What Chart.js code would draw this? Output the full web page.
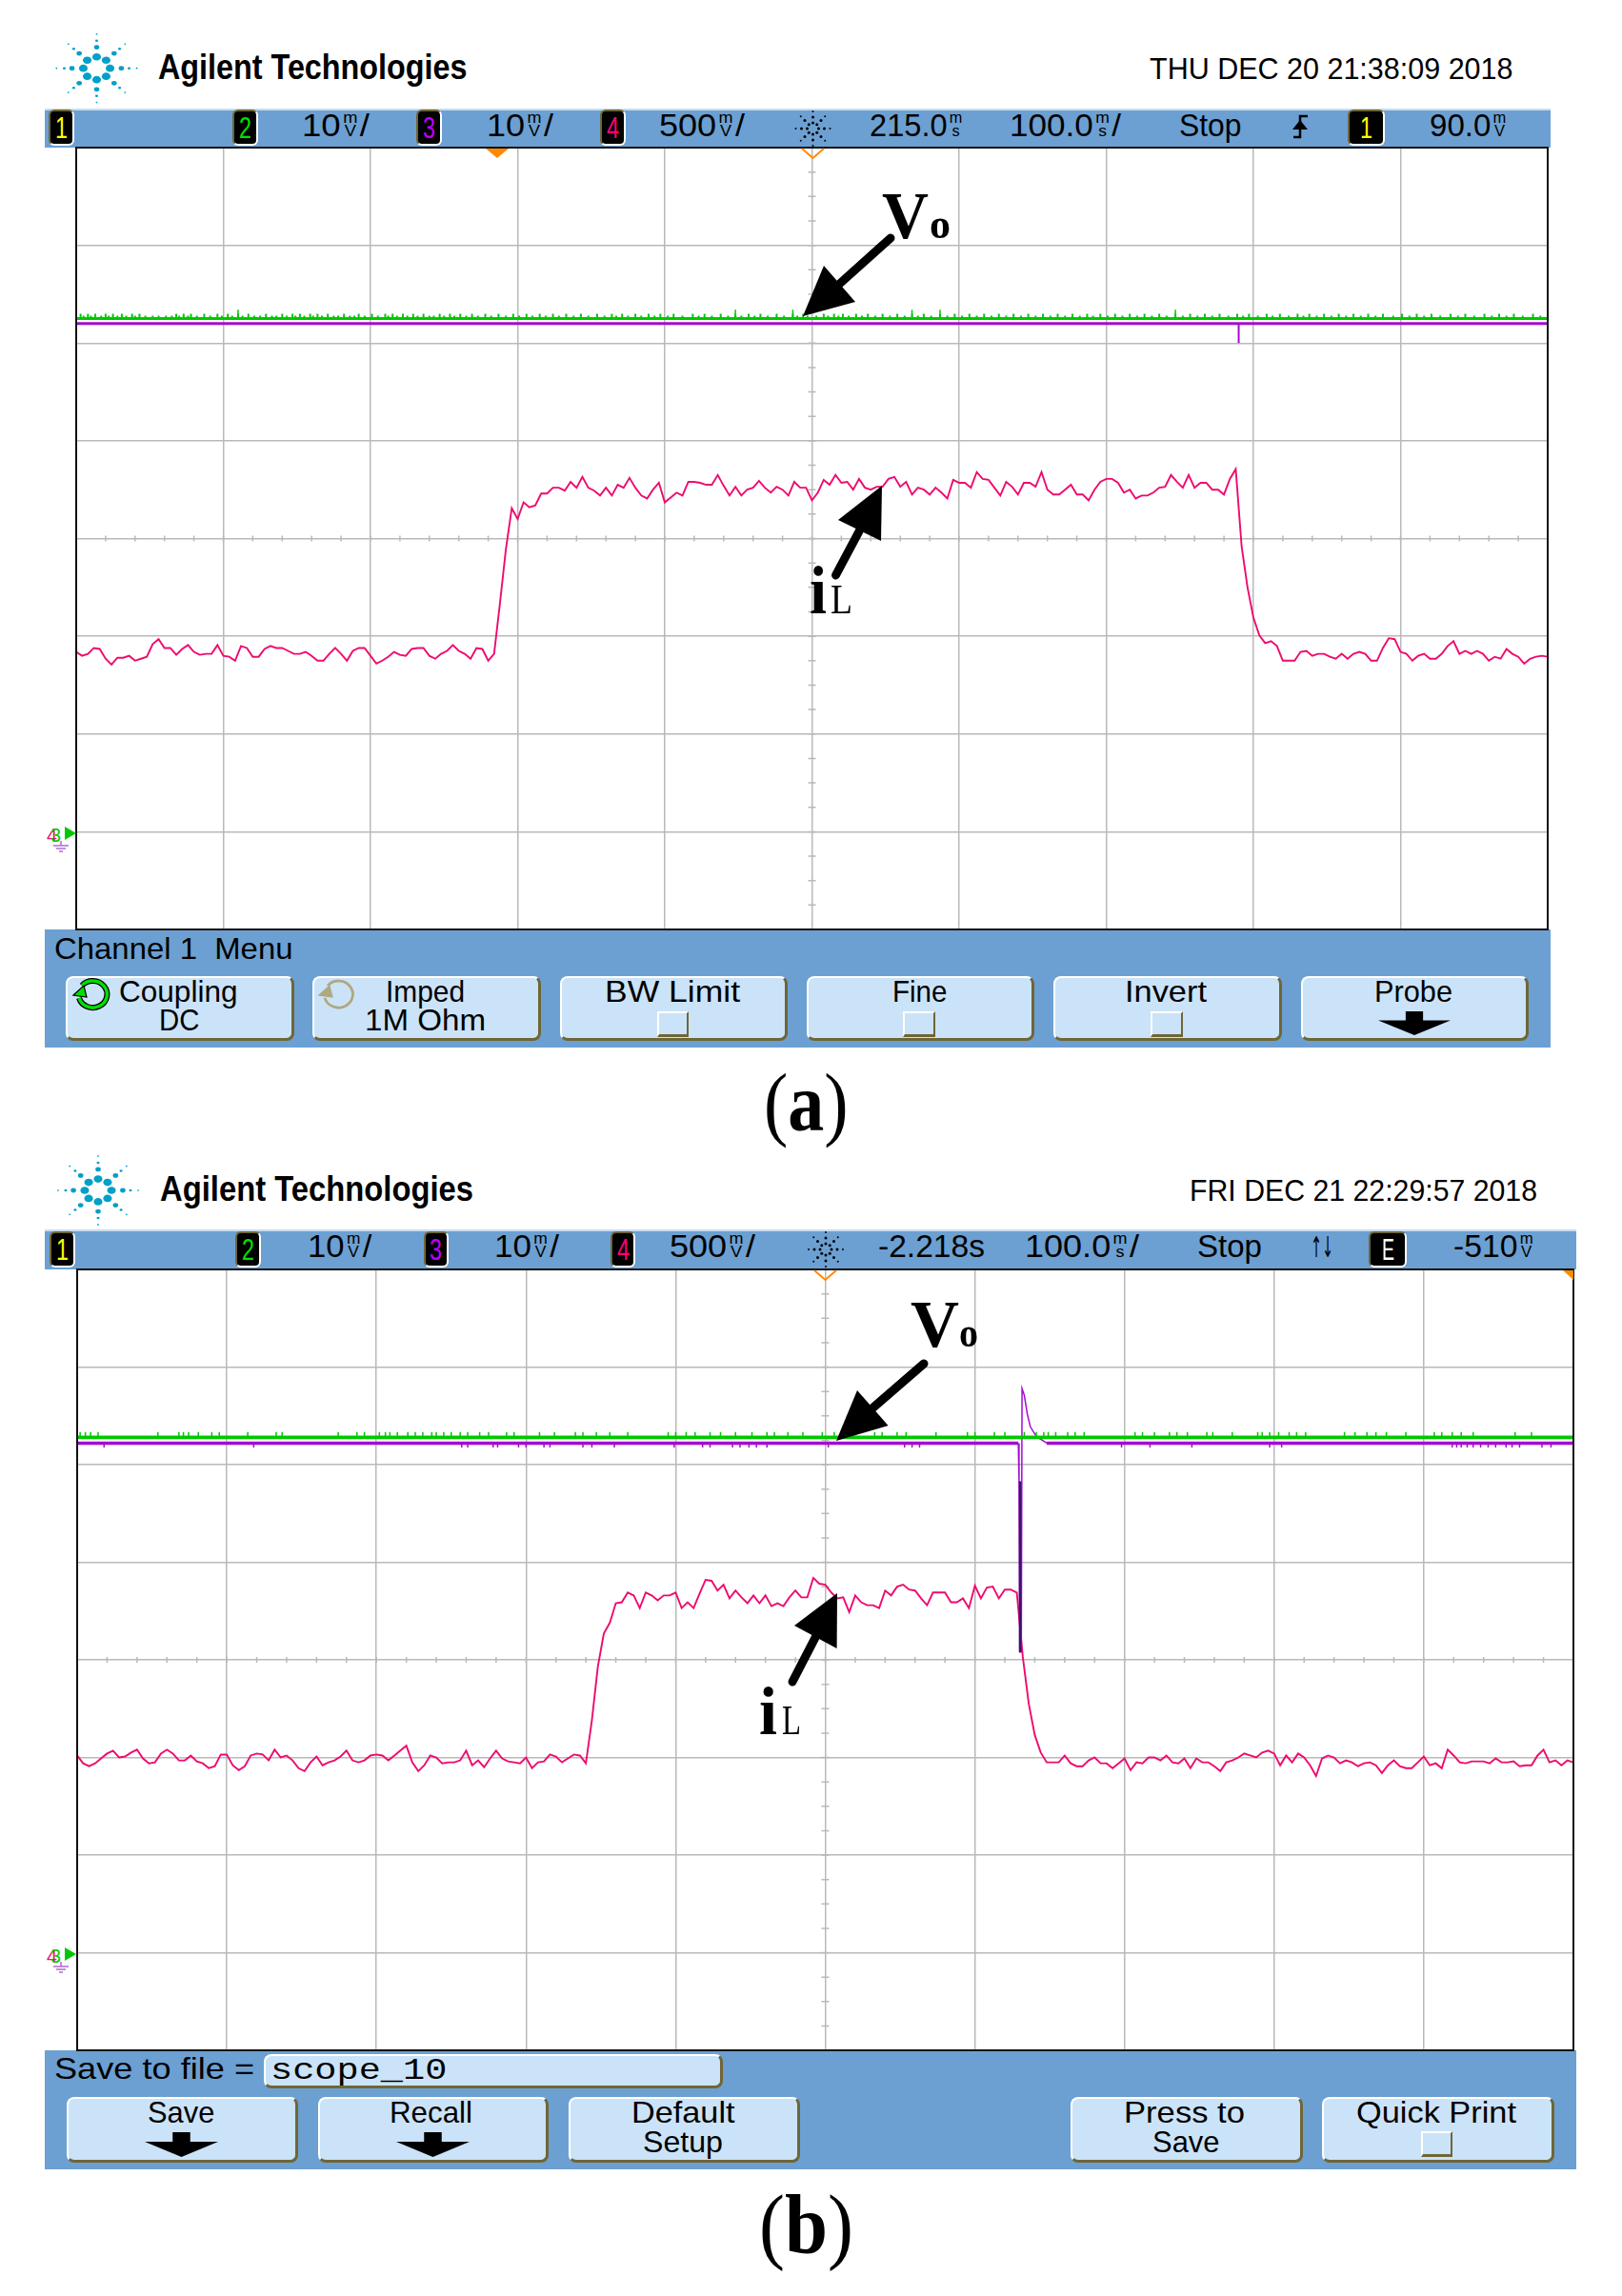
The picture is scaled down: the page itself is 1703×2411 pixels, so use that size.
<!DOCTYPE html>
<html>
<head>
<meta charset="utf-8">
<title>Scope captures</title>
<script src="https://cdn.jsdelivr.net/npm/chart.js@4/dist/chart.umd.min.js"></script>
<style>
html,body{margin:0;padding:0;background:#fff;}
#page{position:relative;width:1703px;height:2411px;overflow:hidden;background:#fff;font-family:"Liberation Sans Narrow","Liberation Sans",sans-serif;color:#000;}
.bar{position:absolute;background:#6ca0d2;}
.btn{position:absolute;box-sizing:border-box;background:#cbe3f8;border-radius:8px;border:2px solid #fff;border-right:3px solid #6f6636;border-bottom:3px solid #6f6636;}
.chk{position:absolute;box-sizing:border-box;background:#cbe3f8;border:2px solid #fff;border-right:2px solid #6f6636;border-bottom:3px solid #6f6636;}
.ch{position:absolute;box-sizing:border-box;background:#000;border-radius:6px;border:2px solid #fff;border-left-color:#6f6636;border-top-color:#6f6636;}
.txt{position:absolute;white-space:pre;transform-origin:0 0;line-height:1;}
.u{display:inline-block;font-size:.5em;line-height:.82;width:1.1em;text-align:center;}
.u b{display:block;font-weight:normal;}
.plot{position:absolute;background:#fff;}
.edge{position:absolute;box-sizing:border-box;border:2px solid #111;pointer-events:none;}
canvas{display:block;}
svg{position:absolute;left:0;top:0;pointer-events:none;}
</style>
</head>
<body>
<div id="page"></div>
<script>
// sample period of the pink trace, one reading every 0.04 div at 100 ms/div
const sampleMs = 4;

// i_L, scope (a), in divisions from the bottom of the screen
const currentA = [
2.84,2.80,2.82,2.88,2.87,2.77,2.71,2.78,2.78,2.80,
2.75,2.77,2.79,2.92,2.97,2.88,2.88,2.81,2.87,2.91,
2.84,2.81,2.82,2.82,2.91,2.80,2.79,2.75,2.90,2.88,
2.79,2.79,2.87,2.90,2.88,2.88,2.85,2.82,2.82,2.84,
2.80,2.75,2.75,2.82,2.88,2.82,2.75,2.85,2.88,2.88,
2.80,2.72,2.75,2.79,2.84,2.81,2.80,2.87,2.88,2.88,
2.80,2.77,2.82,2.85,2.91,2.85,2.82,2.77,2.88,2.87,
2.75,2.82,3.34,3.89,4.31,4.20,4.37,4.32,4.34,4.46,
4.46,4.52,4.52,4.49,4.58,4.52,4.63,4.52,4.49,4.44,
4.52,4.44,4.55,4.52,4.62,4.52,4.44,4.41,4.50,4.57,
4.37,4.42,4.47,4.44,4.58,4.58,4.57,4.55,4.55,4.65,
4.54,4.44,4.53,4.44,4.50,4.52,4.59,4.52,4.47,4.53,
4.50,4.44,4.58,4.52,4.52,4.39,
4.47,4.60,4.55,4.65,4.57,4.58,4.50,4.61,4.52,4.50,
4.53,4.53,4.61,4.63,4.53,4.58,4.45,4.52,4.50,4.45,
4.52,4.47,4.41,4.60,4.57,4.57,4.52,4.68,4.61,4.60,
4.52,4.44,4.58,4.53,4.45,4.57,4.57,4.53,4.68,4.50,
4.45,4.45,4.50,4.55,4.45,4.45,4.39,4.50,4.58,4.61,
4.61,4.57,4.47,4.50,4.41,4.44,4.44,4.47,4.52,4.53,
4.65,4.58,4.52,4.65,4.52,4.57,4.57,4.50,4.50,4.45,
4.61,4.71,3.92,3.50,3.19,3.01,2.93,2.95,2.90,2.75,
2.75,2.75,2.84,2.85,2.80,2.82,2.82,2.79,2.77,2.82,
2.77,2.82,2.84,2.82,2.75,2.75,2.88,2.98,2.97,2.84,
2.82,2.75,2.80,2.82,2.77,2.77,2.82,2.90,2.95,2.82,
2.85,2.82,2.85,2.82,2.75,2.79,2.77,2.87,2.82,2.79,
2.72,2.77,2.79,2.80,2.79
];

// i_L, scope (b)
const currentB = [
3.02,2.94,2.91,2.94,2.99,3.04,3.07,3.00,3.01,3.05,
3.08,2.99,2.94,2.95,3.04,3.08,3.04,2.97,2.97,3.02,
2.96,2.94,2.89,2.91,3.03,3.03,2.92,2.87,2.91,3.02,
3.04,3.03,2.97,3.08,3.00,3.02,2.97,2.89,2.86,2.95,
3.01,2.92,2.95,2.97,3.01,3.07,2.97,2.95,2.97,3.02,
3.03,3.02,2.97,3.02,3.07,3.12,2.95,2.86,2.92,3.02,
3.00,2.94,2.95,2.95,2.97,3.07,2.92,2.97,2.90,2.99,
3.07,2.99,2.96,2.95,2.94,3.00,2.89,2.95,2.96,3.03,
3.01,2.95,2.99,3.03,3.02,2.94,3.38,3.93,4.27,4.38,
4.58,4.59,4.69,4.66,4.53,4.69,4.66,4.61,4.66,4.66,
4.69,4.53,4.59,4.53,4.68,4.82,4.81,4.71,4.77,4.63,
4.71,4.64,4.58,4.66,4.58,4.66,4.55,4.58,4.55,4.64,
4.71,4.64,4.64,4.84,4.78,4.77,
4.69,4.63,4.64,4.49,4.66,4.59,4.56,4.56,4.53,4.71,
4.66,4.75,4.77,4.72,4.71,4.63,4.56,4.69,4.69,4.69,
4.59,4.59,4.63,4.53,4.76,4.63,4.74,4.75,4.63,4.72,
4.72,4.69,4.03,3.55,3.23,3.05,2.95,2.95,2.95,3.02,
2.94,2.91,2.91,2.97,3.00,2.94,2.94,2.89,2.94,2.99,
2.87,2.95,2.94,3.00,3.00,2.97,3.02,2.95,2.94,2.99,
2.89,2.99,2.95,2.95,2.91,2.86,2.95,2.97,3.00,3.04,
3.02,3.00,3.05,3.07,3.04,2.92,3.02,2.95,3.04,3.00,
2.92,2.81,2.99,3.02,3.00,2.94,2.97,2.95,2.91,2.94,
2.95,2.92,2.84,2.92,2.97,2.91,2.89,2.89,2.95,3.01,
2.92,2.94,2.89,3.08,3.02,2.95,2.94,2.96,2.96,2.96,
2.94,2.99,2.95,2.95,2.96,2.91,2.92,2.92,3.02,3.08,
2.95,2.97,2.92,2.97,2.95
];

// V_o levels in divisions, and where the noise ticks sit (ms)
const greenLevelA = 6.25, purpleLevelA = 6.2, greenLevelB = 6.28, purpleLevelB = 6.22;
const greenTicksA = [3,8,13,20,25,31,38,43,68,73,78,87,96,103,110,117,129,140,147,152,159,164,171,182,192,201,210,215,222,229,236,247,254,261,269,278,287,297,306,315,324,333,343,354,364,371,380,389,397,406,419,427,438,448,457,465,476,487,494,508,515,521,530,538,548,558,568,576,587,597,607,617,627,637,647,657,667,677,687,696,706,716,726,736,747,757,767,777,789,797,809,818,830,838,848,858,868,878,888,901,911,921,934,944,957,967,977,990];
const greenFuzzA = [5,10,17,22,28,34,40,47,52,56,61,65,70,76,82,91,99,106,113,121,125,133,136,143,149,155,161,167,175,178,186,189,196,205,212,218,225,232,240,243,250,257,265,273,282,292,301,310,319,328,338,348,359,367,375,384,393,402,412,423,432,443,452,461,470,481,490,497,503,511,518,525,534,543,553,563,572,581,592,602,612,622,632,642,652,662,672,682,691,701,711,721,731,741,752,762,772,783,793,803,813,824,834,843,853,863,873,883,895,906,916,927,939,950,962,972,983,995];
const greenPeaksA = [110,448,487,568,587,747];
const greenTicksB = [2,5.5,9,14,54,68,71,74.5,81,90,95,114,133,137,174.5,187,192,202,206,209,214,221,226,231,237,240,245,250,256,261,269,275,287,292,309,319,333,338,347,356,368,395,400,407,413,423,430,440,451,461,466,475,485,498,506,533,538,548,554,574,595,600,613,620,633,641,646,649,654,662,667,673,707,712,720,730,735,742,755,759,772,789,792,797,803,810,815,821,847,854,862,868,875,888,907,912,919,925,933,961,972];
const purpleTicksB = [18,118,257,261,278,281,295,300,312,316,338,344,359,399,418,423,438,443,449,454,461,502,553,558,563,698,717,745,797,805,919,922,925,929,933,938,943,948,955,959,964,979,985];

// the dip and recovery on the purple trace
const dipTimeA = [790,790];
const dipValueA = [6.2,6.0];
const dipTimeB = [629,629.5,630,631,631.5,633,635,637,641,644,648];
const dipValueB = [6.22,5.83,4.08,4.08,6.78,6.71,6.52,6.39,6.29,6.26,6.22];

const gridX = [0,100,200,300,400,500,600,700,800,900,1000];
const gridY = [0,1,2,3,4,5,6,7,8];

const colGreen = '#00c800', colPurple = '#a30cd0', colPink = '#ee0a6e', colDark = '#3e1268', colGrid = '#b9b9b9';

function xy(times, values){
	return times.map(function(t, i){ return {x: t, y: values[i]}; });
}

function sampled(values){
	return values.map(function(v, i){ return {x: i * sampleMs, y: v}; });
}

function ticks(times, level, height){
	let pts = [];
	times.forEach(function(t){
		pts.push({x: t, y: level}, {x: t, y: level + height}, {x: t, y: null});
	});
	return pts;
}

function trace(data, color, width){
	return {data: data, borderColor: color, borderWidth: width, pointRadius: 0, showLine: true, spanGaps: false, tension: 0, fill: false, stepped: false};
}

// small ticks on the centre cross, every 0.2 div across and 0.25 div down
const centreTicks = {
	id: 'centreTicks',
	beforeDatasetsDraw: function(chart){
		let c = chart.ctx, sx = chart.scales.x, sy = chart.scales.y;
		c.save();
		c.strokeStyle = colGrid;
		c.lineWidth = 1.5;
		c.beginPath();
		for (let t = 20; t < 1000; t += 20){
			c.moveTo(sx.getPixelForValue(t), sy.getPixelForValue(4) - 3);
			c.lineTo(sx.getPixelForValue(t), sy.getPixelForValue(4) + 3);
		}
		for (let v = 0.25; v < 8; v += 0.25){
			c.moveTo(sx.getPixelForValue(500) - 4, sy.getPixelForValue(v));
			c.lineTo(sx.getPixelForValue(500) + 4, sy.getPixelForValue(v));
		}
		c.stroke();
		c.restore();
	}
};

const page = document.getElementById('page');

function scopeChart(box, datasets){
	let holder = document.createElement('div');
	holder.className = 'plot';
	holder.style.cssText = `left:${box.x}px;top:${box.y}px;width:${box.w}px;height:${box.h}px`;
	let canvas = document.createElement('canvas');
	canvas.width = box.w;
	canvas.height = box.h;
	holder.appendChild(canvas);
	page.appendChild(holder);
	return new Chart(canvas, {
		type: 'scatter',
		data: {datasets: datasets},
		plugins: [centreTicks],
		options: {
			responsive: false,
			animation: false,
			layout: {padding: 0},
			plugins: {legend: {display: false}, tooltip: {enabled: false}, title: {display: false}},
			scales: {
				x: {type: 'linear', min: 0, max: 1000, afterBuildTicks: function(a){ a.ticks = gridX.map(function(v){ return {value: v}; }); }, ticks: {display: false}, border: {display: false}, grid: {color: colGrid, lineWidth: 1.5, drawTicks: false}},
				y: {type: 'linear', min: 0, max: 8, afterBuildTicks: function(a){ a.ticks = gridY.map(function(v){ return {value: v}; }); }, ticks: {display: false}, border: {display: false}, grid: {color: colGrid, lineWidth: 1.5, drawTicks: false}}
			}
		}
	});
}

// BEGIN chrome helpers
function box(cls, x, y, w, h, extra){
	let d = document.createElement('div');
	d.className = cls;
	d.style.cssText = `left:${x}px;top:${y}px;width:${w}px;height:${h}px;` + (extra || '');
	page.appendChild(d);
	return d;
}

// puts text between x0 and x1 on a baseline, squeezing it to the measured width
function label(html, x0, x1, base, size, extra){
	let s = document.createElement('span');
	s.className = 'txt';
	s.innerHTML = html + '<i style="display:inline-block;width:0;height:0"></i>';
	s.style.cssText = `left:${x0}px;top:0;font-size:${size}px;` + (extra || '');
	page.appendChild(s);
	let rect = s.getBoundingClientRect();
	let mark = s.lastChild.getBoundingClientRect();
	s.style.top = (base - (mark.bottom - rect.top)) + 'px';
	s.style.transform = `scaleX(${(x1 - x0) / rect.width})`;
	return s;
}

const unit = function(a, b){ return `<span class="u"><b>${a}</b><b>${b}</b></span>`; };
let svg = '';

function chBox(txt, color, x0, x1, y0, y1){
	box('ch', x0, y0, x1 - x0, y1 - y0);
	label(txt, x0 + (x1 - x0) / 2 - 6.5, x0 + (x1 - x0) / 2 + 6.5, y1 - 8, 32, `color:${color}`);
}

function burst(cx, cy, rings, sx, sy, color){
	for (let a = 0; a < 8; a++){
		let ang = a * Math.PI / 4;
		rings.forEach(function(r){
			svg += `<ellipse cx="${cx + Math.cos(ang) * r[0] * sx}" cy="${cy + Math.sin(ang) * r[0] * sy}" rx="${r[1] * sx}" ry="${r[1] * sy}" fill="${color}"/>`;
		});
	}
}

function downArrow(x0, x1, y0, y1){
	let m = (x0 + x1) / 2, w = (x1 - x0) * 0.12, n = y0 + (y1 - y0) * 0.38;
	svg += `<polygon points="${m - w},${y0} ${m + w},${y0} ${m + w},${n} ${x1},${n} ${m},${y1} ${x0},${n} ${m - w},${n}" fill="#000"/>`;
}

function knob(cx, cy, color, outline, outer, inner){
	svg += `<path d="M${cx - 11} ${cy - 9} A15 14 0 1 1 ${cx - 14} ${cy + 4}" fill="none" stroke="${outline}" stroke-width="${outer}"/>`;
	svg += `<path d="M${cx - 11} ${cy - 9} A15 14 0 1 1 ${cx - 14} ${cy + 4}" fill="none" stroke="${color}" stroke-width="${inner}"/>`;
	svg += `<polygon points="${cx - 20},${cy + 1} ${cx - 9},${cy - 9} ${cx - 6},${cy + 3}" fill="${color}" stroke="${outline}" stroke-width="1.2"/>`;
}

function pointer(tip, b1, b2, end, width){
	let nx = (b1[0] + b2[0]) / 2, ny = (b1[1] + b2[1]) / 2;
	svg += `<line x1="${nx}" y1="${ny}" x2="${end[0]}" y2="${end[1]}" stroke="#000" stroke-width="${width}" stroke-linecap="round"/>`;
	svg += `<polygon points="${tip} ${b1} ${b2}" fill="#000"/>`;
}

function groundMark(y){
	svg += `<polygon points="68,${y - 7} 80,${y} 68,${y + 7}" fill="#00c800"/>`;
	svg += `<path d="M64 ${y + 8} v5 M56 ${y + 13} h16 M59 ${y + 16} h10 M62 ${y + 19} h4" stroke="#b06ad0" stroke-width="1.5" fill="none"/>`;
	label('4', 49, 60, y + 9, 20, 'color:#ee0a6e');
	label('3', 53, 64, y + 9, 20, 'color:#00c800');
}

function serif(txt, x0, x1, base, size, weight){
	return label(txt, x0, x1, base, size, `font-family:'Liberation Serif',serif;font-weight:${weight}`);
}
// END chrome helpers

// BEGIN scope (a)
box('bar', 47, 114, 1581, 41, 'border-top:2px solid #c8dcee;box-sizing:border-box');
box('bar', 47, 976, 1581, 124);
scopeChart({x: 80, y: 155, w: 1545, h: 821}, [
	trace(ticks(greenPeaksA, greenLevelA, 0.09), colGreen, 1.5),
	trace(ticks(greenTicksA, greenLevelA, 0.05), colGreen, 2),
	trace(ticks(greenFuzzA, greenLevelA, 0.03), colGreen, 2),
	trace(xy([0, 1000], [greenLevelA, greenLevelA]), colGreen, 3),
	trace(xy(dipTimeA, dipValueA), colPurple, 2),
	trace(xy([0, 1000], [purpleLevelA, purpleLevelA]), colPurple, 3),
	trace(sampled(currentA), colPink, 1.9)
]);
box('edge', 79, 154, 1547, 823);

burst(101.5, 71.7, [[13, 4.2], [24, 2.6], [31.5, 1.4], [39, 0.9]], 1.08, 0.92, '#00a0c8');
label('Agilent Technologies', 165.5, 490, 83, 36, 'font-weight:bold');
label('THU DEC 20 21:38:09 2018', 1207, 1588.5, 83.3, 31);

chBox('1', '#ffff00', 50.6, 78, 115, 153);
chBox('2', '#00e000', 244, 271, 115, 153);
label('10' + unit('m', 'V') + '/', 317, 388, 142.7, 33);
chBox('3', '#c000ff', 436.5, 463.6, 115, 153);
label('10' + unit('m', 'V') + '/', 511, 581, 142.7, 33);
chBox('4', '#ff0078', 630, 657, 115, 153);
label('500' + unit('m', 'V') + '/', 692, 782, 142.7, 33);
burst(853.5, 135, [[6, 1.5], [12, 1.5], [18, 1]], 1, 1, '#000');
label('215.0' + unit('m', 's'), 912.5, 1012, 142.7, 33);
label('100.0' + unit('m', 's') + '/', 1060, 1177, 142.7, 33);
label('Stop', 1237.5, 1303, 142.7, 33);
svg += '<path d="M1358 144 h7 V122 h8" stroke="#000" stroke-width="2.5" fill="none"/><polygon points="1357,136 1365,126 1373,136" fill="#000"/>';
chBox('1', '#ffff00', 1414.6, 1454, 115, 153);
label('90.0' + unit('m', 'V'), 1501, 1583.5, 142.7, 33);
svg += '<polygon points="510,156 534,156 522,166" fill="#ff8a00"/>';
svg += '<path d="M842 156 L853.5 166 L865 156" fill="none" stroke="#ff8a00" stroke-width="2"/>';
groundMark(875);

label('Channel 1  Menu', 57, 307.5, 1006.7, 32);
box('btn', 69, 1025, 240, 68);
box('btn', 328, 1025, 240, 68);
box('btn', 588, 1025, 239, 68);
box('btn', 847, 1025, 238.5, 68);
box('btn', 1106.4, 1025, 239.3, 68);
box('btn', 1366, 1025, 239, 68);
knob(97, 1044, '#00e000', '#000', 6, 3.5);
knob(355, 1044, '#b0a880', '#b0a880', 2.5, 2.5);
label('Coupling', 125, 249.5, 1051.7, 32);
label('DC', 166.6, 209, 1082, 32);
label('Imped', 405, 488, 1051.7, 32);
label('1M Ohm', 383, 510, 1082, 32);
label('BW Limit', 635, 777, 1051.7, 32);
box('chk', 690, 1062, 33, 27);
label('Fine', 936.5, 994, 1051.7, 32);
box('chk', 948, 1062, 34, 27);
label('Invert', 1181, 1267, 1051.7, 32);
box('chk', 1208, 1062, 34, 27);
label('Probe', 1443, 1525, 1051.7, 32);
downArrow(1447, 1523, 1062, 1087);
serif('(<b>a</b>)', 802, 890.6, 1187, 87, 'normal');

pointer([843, 332], [865, 279], [898, 317], [935, 250], 9);
pointer([926, 510], [880, 546], [925, 568], [877.5, 604], 9);
serif('V', 926, 975, 250, 70, 'bold');
serif('o', 976, 998, 250, 44, 'bold');
serif('i', 850, 868, 644, 72, 'bold');
serif('L', 872, 895, 644, 44, 'normal');
// END scope (a)

// BEGIN scope (b)
box('bar', 47, 1291, 1608, 42, 'border-top:2px solid #c8dcee;box-sizing:border-box');
box('bar', 47, 2153, 1608, 125);
scopeChart({x: 81, y: 1333, w: 1571, h: 820}, [
	trace(ticks(greenTicksB, greenLevelB, 0.055), colGreen, 1.5),
	trace(xy([0, 1000], [greenLevelB, greenLevelB]), colGreen, 3.8),
	trace(xy([630.2, 630.2], [5.83, 4.08]), colDark, 2.6),
	trace(xy(dipTimeB, dipValueB), colPurple, 1.5),
	trace(ticks(purpleTicksB, purpleLevelB, -0.045), colPurple, 1.5),
	trace(xy([0, 629, null, 648, 1000], [purpleLevelB, purpleLevelB, null, purpleLevelB, purpleLevelB]), colPurple, 3.6),
	trace(sampled(currentB), colPink, 1.9)
]);
box('edge', 80, 1332, 1573, 822);

burst(103, 1250, [[13, 4.2], [24, 2.6], [31.5, 1.4], [39, 0.9]], 1.08, 0.92, '#00a0c8');
label('Agilent Technologies', 167.5, 496.5, 1261, 36, 'font-weight:bold');
label('FRI DEC 21 22:29:57 2018', 1249, 1614, 1261, 31);

chBox('1', '#ffff00', 51.7, 78.8, 1293, 1331);
chBox('2', '#00e000', 247, 274, 1293, 1331);
label('10' + unit('m', 'V') + '/', 322.7, 390, 1320, 33);
chBox('3', '#c000ff', 444.6, 470.6, 1293, 1331);
label('10' + unit('m', 'V') + '/', 519, 587, 1320, 33);
chBox('4', '#ff0078', 641, 667, 1293, 1331);
label('500' + unit('m', 'V') + '/', 703, 793, 1320, 33);
burst(867, 1312, [[6, 1.5], [12, 1.5], [18, 1]], 1, 1, '#000');
label('-2.218s', 922, 1034, 1320, 33);
label('100.0' + unit('m', 's') + '/', 1076, 1196, 1320, 33);
label('Stop', 1257, 1325, 1320, 33);
label('↑↓', 1376, 1400, 1320, 30, "font-family:'DejaVu Sans',sans-serif");
chBox('E', '#fff', 1437, 1477, 1293, 1331);
label('-510' + unit('m', 'V'), 1526, 1612, 1320, 33);
svg += '<path d="M855 1334 L866.5 1344 L878 1334" fill="none" stroke="#ff8a00" stroke-width="2"/>';
svg += '<polygon points="1641,1334 1652,1334 1652,1344" fill="#ff8a00"/>';
groundMark(2052);

label('Save to file =', 57, 267, 2182.7, 32);
box('btn', 276.6, 2157, 482.4, 36);
label('scope_10', 283.7, 469, 2182.7, 32, "font-family:'Liberation Mono',monospace");
box('btn', 69.6, 2202, 243.4, 69);
box('btn', 333.5, 2202, 242.5, 69);
box('btn', 597, 2202, 243, 69);
box('btn', 1124, 2202, 244, 69);
box('btn', 1388, 2202, 243.5, 69);
label('Save', 154.7, 225, 2229, 32);
downArrow(152, 229, 2239, 2265);
label('Recall', 409, 496, 2229, 32);
downArrow(416, 493, 2239, 2265);
label('Default', 663, 771.5, 2229, 32);
label('Setup', 675, 759, 2260, 32);
label('Press to', 1180, 1307, 2229, 32);
label('Save', 1209.5, 1280, 2260, 32);
label('Quick Print', 1424, 1592, 2229, 32);
box('chk', 1492, 2238, 33, 27);
serif('(<b>b</b>)', 797, 896, 2366, 88, 'normal');

pointer([878, 1513], [900, 1460], [932.6, 1497], [970, 1432], 9);
pointer([879, 1673], [834, 1707], [878.6, 1731], [832, 1766], 9);
serif('V', 956, 1007, 1414, 70, 'bold');
serif('o', 1007, 1027, 1414, 44, 'bold');
serif('i', 797, 816, 1821, 72, 'bold');
serif('L', 821, 841, 1821, 44, 'normal');
// END scope (b)

let overlay = document.createElementNS('http://www.w3.org/2000/svg', 'svg');
overlay.setAttribute('width', 1703);
overlay.setAttribute('height', 2411);
overlay.style.zIndex = 5;
overlay.innerHTML = svg;
page.appendChild(overlay);
</script>
</body>
</html>
